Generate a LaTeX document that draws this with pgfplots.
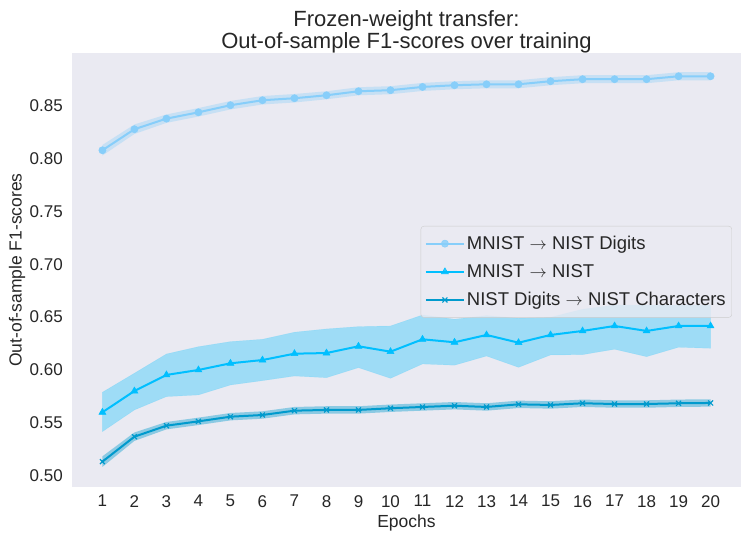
\documentclass[border=0pt]{standalone}
\usepackage{fontspec}
\setmainfont{Liberation Sans}
\usepackage{pgfplots}
\usepackage{pgfplotstable}
\pgfplotsset{compat=1.18}
\usepgfplotslibrary{fillbetween}
\definecolor{bg}{HTML}{EAEAF2}
\definecolor{cA}{HTML}{87CEFA}
\definecolor{cB}{HTML}{00BFFF}
\definecolor{cC}{HTML}{009ACD}
\definecolor{txt}{HTML}{262626}

\pgfplotstableread{
x m lo hi
1 0.8078 0.8028 0.8128
2 0.8277 0.8232 0.8322
3 0.8377 0.8337 0.8417
4 0.8437 0.8397 0.8477
5 0.8504 0.8464 0.8544
6 0.8551 0.8511 0.8591
7 0.8570 0.8530 0.8610
8 0.8598 0.8560 0.8636
9 0.8636 0.8598 0.8674
10 0.8646 0.8608 0.8684
11 0.8677 0.8639 0.8715
12 0.8693 0.8655 0.8731
13 0.8702 0.8664 0.8740
14 0.8702 0.8664 0.8740
15 0.8731 0.8693 0.8769
16 0.8750 0.8712 0.8788
17 0.8750 0.8712 0.8788
18 0.8750 0.8712 0.8788
19 0.8778 0.8740 0.8816
20 0.8778 0.8740 0.8816
}\tA

\pgfplotstableread{
x m lo hi
1 0.5600 0.5417 0.5789
2 0.5801 0.5622 0.5969
3 0.5953 0.5748 0.6151
4 0.6000 0.5764 0.6220
5 0.6063 0.5858 0.6268
6 0.6094 0.5899 0.6290
7 0.6154 0.5943 0.6357
8 0.6160 0.5927 0.6388
9 0.6224 0.6022 0.6410
10 0.6173 0.5921 0.6416
11 0.6290 0.6057 0.6520
12 0.6262 0.6045 0.6480
13 0.6331 0.6132 0.6514
14 0.6258 0.6025 0.6489
15 0.6331 0.6142 0.6498
16 0.6369 0.6145 0.6574
17 0.6416 0.6196 0.6614
18 0.6369 0.6126 0.6614
19 0.6416 0.6215 0.6614
20 0.6416 0.6205 0.6614
}\tB

\pgfplotstableread{
x m lo hi
1 0.5133 0.5083 0.5183
2 0.5369 0.5329 0.5409
3 0.5473 0.5438 0.5508
4 0.5514 0.5479 0.5549
5 0.5558 0.5523 0.5593
6 0.5574 0.5539 0.5609
7 0.5615 0.5580 0.5650
8 0.5622 0.5587 0.5657
9 0.5622 0.5587 0.5657
10 0.5638 0.5603 0.5673
11 0.5650 0.5615 0.5685
12 0.5662 0.5627 0.5697
13 0.5650 0.5615 0.5685
14 0.5675 0.5640 0.5710
15 0.5669 0.5634 0.5704
16 0.5685 0.5650 0.5720
17 0.5678 0.5643 0.5713
18 0.5678 0.5643 0.5713
19 0.5685 0.5650 0.5720
20 0.5688 0.5653 0.5723
}\tC

\begin{document}
\begin{tikzpicture}
\begin{axis}[
  at={(72pt,54pt)}, anchor=south west,
  scale only axis, width=669pt, height=434pt,
  xmin=0.05, xmax=20.95, ymin=0.4893, ymax=0.8998,
  axis background/.style={fill=bg},
  axis line style={draw=none},
  major tick length=0pt,
  xtick={1,2,...,20},
  ytick={0.50,0.55,0.60,0.65,0.70,0.75,0.80,0.85},
  yticklabel style={/pgf/number format/fixed, /pgf/number format/fixed zerofill, /pgf/number format/precision=2, inner sep=0pt, xshift=-9pt},
  xticklabel style={inner sep=0pt, yshift=-8pt},
  /pgf/number format/assume math mode=true,
  tick label style={font=\fontsize{17}{20}\selectfont, text=txt},
  xlabel={Epochs},
  ylabel={Out-of-sample F1-scores},
  label style={font=\fontsize{17.5}{21}\selectfont, text=txt},
  xlabel style={at={(0.5,-0.083)}, anchor=center},
  ylabel style={at={(-0.0822,0.5)}, anchor=center},
  title={Frozen-weight transfer:\\Out-of-sample F1-scores over training},
  title style={align=center, font=\fontsize{22}{22}\selectfont, text=txt, at={(0.5,1)}, anchor=south, inner sep=0pt, yshift=-6pt},
  legend style={at={(0.9865,0.6014)}, anchor=north east, fill=bg, fill opacity=0.8, draw opacity=1, text opacity=1, draw=black!20, rounded corners=3pt, font=\fontsize{18.5}{21}\selectfont, text=txt, row sep=9.5pt, inner xsep=4pt, inner ysep=8pt},
  legend cell align=left,
  legend image code/.code={\draw[mark repeat=2,mark phase=2,#1] plot coordinates {(0pt,0pt) (19pt,0pt) (38pt,0pt)};},
]
\addplot[name path=A1, draw=none, forget plot] table[x=x,y=hi]{\tA};
\addplot[name path=A2, draw=none, forget plot] table[x=x,y=lo]{\tA};
\addplot[fill=cA, draw=none, fill opacity=0.35, forget plot] fill between[of=A1 and A2];
\addplot[cA, line width=2pt, mark=*, mark size=3.6pt, mark options={solid, fill=cA, draw=cA, line width=0.5pt}] table[x=x,y=m]{\tA};
\addlegendentry{MNIST $\rightarrow$ NIST Digits}

\addplot[name path=B1, draw=none, forget plot] table[x=x,y=hi]{\tB};
\addplot[name path=B2, draw=none, forget plot] table[x=x,y=lo]{\tB};
\addplot[fill=cB, draw=cB, draw opacity=0.15, fill opacity=0.32, forget plot] fill between[of=B1 and B2];
\addplot[cB, line width=2pt, mark=triangle*, mark size=4pt, mark options={solid, fill=cB, draw=cB, line width=0.5pt}] table[x=x,y=m]{\tB};
\addlegendentry{MNIST $\rightarrow$ NIST}

\addplot[name path=C1, draw=none, forget plot] table[x=x,y=hi]{\tC};
\addplot[name path=C2, draw=none, forget plot] table[x=x,y=lo]{\tC};
\addplot[fill=cC, draw=none, fill opacity=0.4, forget plot] fill between[of=C1 and C2];
\addplot[cC, line width=2pt, mark=x, mark size=3.5pt, mark options={solid, draw=cC, line width=1.2pt}] table[x=x,y=m]{\tC};
\addlegendentry{NIST Digits $\rightarrow$ NIST Characters}
\end{axis}
\path (0,0) rectangle (751pt,541pt);
\end{tikzpicture}
\end{document}
